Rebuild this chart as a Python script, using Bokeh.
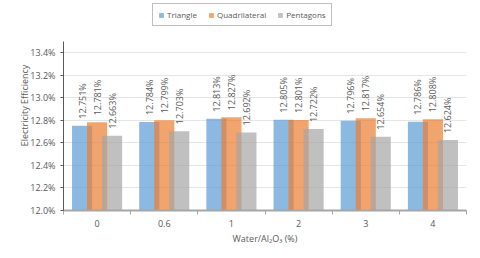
from bokeh.plotting import figure
from bokeh.models import (ColumnDataSource, FixedTicker, PrintfTickFormatter, Range1d,
                          Legend, LegendItem, LabelSet)
from bokeh.core.properties import value
from bokeh.transform import dodge
from bokeh.embed import file_html
from bokeh.resources import INLINE
import math

categories = ["0", "0.6", "1", "2", "3", "4"]
triangle = [12.751, 12.784, 12.813, 12.805, 12.796, 12.786]
quadrilateral = [12.781, 12.799, 12.827, 12.801, 12.817, 12.808]
pentagons = [12.663, 12.703, 12.692, 12.722, 12.654, 12.624]
series_names = ["Triangle", "Quadrilateral", "Pentagons"]
colors = ["#5B9BD5", "#ED7D31", "#A5A5A5"]
y_ticks = [12.0, 12.2, 12.4, 12.6, 12.8, 13.0, 13.2, 13.4]
y_axis_min, y_axis_max = 12.0, 13.5

FONT = "Open Sans"
TXT = "#595959"
FS = "9px"

xs = list(range(len(categories)))
src = ColumnDataSource(dict(
    x=xs,
    tri=triangle, quad=quadrilateral, pent=pentagons,
    tri_l=["%.3f%%" % v for v in triangle],
    quad_l=["%.3f%%" % v for v in quadrilateral],
    pent_l=["%.3f%%" % v for v in pentagons],
))

# frame spans the legend area too; the y axis line is bounded to the value range
px_per_unit = 158 / 1.4
frame_h = 210
p = figure(width=480, height=258, output_backend="svg", toolbar_location=None,
           x_range=Range1d(-0.5, len(categories) - 0.5),
           y_range=Range1d(y_axis_min, y_axis_min + frame_h / px_per_unit),
           min_border_left=63, min_border_right=14, min_border_top=258 - 48 - frame_h,
           min_border_bottom=48)
p.outline_line_color = None

offs = [-0.223, 0.0, 0.223]
keys = ["tri", "quad", "pent"]
renderers = []
for k, off, c in zip(keys, offs, colors):
    r = p.vbar(x=dodge("x", off, range=p.x_range), top=k, bottom=y_axis_min, width=0.3,
               source=src, fill_color=c, fill_alpha=0.7, line_color=None)
    renderers.append(r)
    lab = LabelSet(x=dodge("x", off, range=p.x_range), y=k, text=k + "_l", source=src,
                   angle=math.pi / 2, text_align="left", text_baseline="middle",
                   y_offset=7, text_font=value(FONT), text_font_size=value(FS),
                   text_color=TXT)
    p.add_layout(lab)

legend = Legend(items=[LegendItem(label=n, renderers=[r]) for n, r in zip(series_names, renderers)],
                orientation="horizontal", location=(89, 184),
                glyph_width=6, glyph_height=6, label_standoff=3, spacing=11,
                padding=5, margin=0,
                label_text_font=FONT, label_text_font_size="8px", label_text_color=TXT,
                border_line_color="#BFBFBF", border_line_width=1, border_line_alpha=1,
                label_height=9, background_fill_color="white", background_fill_alpha=1)
p.add_layout(legend, "center")

# axes
xa = p.xaxis[0]
xa.ticker = FixedTicker(ticks=xs, minor_ticks=[i - 0.5 for i in range(len(categories) + 1)])
xa.major_label_overrides = {i: c for i, c in enumerate(categories)}
xa.major_tick_out = 0
xa.major_tick_in = 0
xa.minor_tick_out = 4
xa.minor_tick_in = 0
xa.minor_tick_line_color = "#A6A6A6"
xa.axis_line_color = "#A6A6A6"
xa.axis_line_width = 2
xa.major_label_text_font = FONT
xa.major_label_text_font_size = FS
xa.major_label_text_color = TXT
xa.major_label_standoff = 5
xa.axis_label = "Water/Al₂O₃ (%)"
xa.axis_label_text_font = FONT
xa.axis_label_text_font_size = FS
xa.axis_label_text_font_style = "normal"
xa.axis_label_text_color = TXT
xa.axis_label_standoff = 2

ya = p.yaxis[0]
ya.bounds = (y_axis_min, y_axis_max)
ya.ticker = FixedTicker(ticks=y_ticks, minor_ticks=[])
ya.formatter = PrintfTickFormatter(format="%.1f%%")
ya.major_tick_out = 3
ya.major_tick_in = 0
ya.major_tick_line_color = "#595959"
ya.axis_line_color = "#595959"
ya.major_label_text_font = FONT
ya.major_label_text_font_size = FS
ya.major_label_text_color = TXT
ya.major_label_standoff = 5
ya.axis_label = "Electricity Efficiency"
ya.axis_label_text_font = FONT
ya.axis_label_text_font_size = FS
ya.axis_label_text_font_style = "normal"
ya.axis_label_text_color = TXT
ya.axis_label_standoff = -4

p.xgrid.grid_line_color = None
p.ygrid.ticker = FixedTicker(ticks=y_ticks)
p.ygrid.grid_line_color = "#E5E5E5"

open("out.html", "w").write(file_html(p, INLINE))
